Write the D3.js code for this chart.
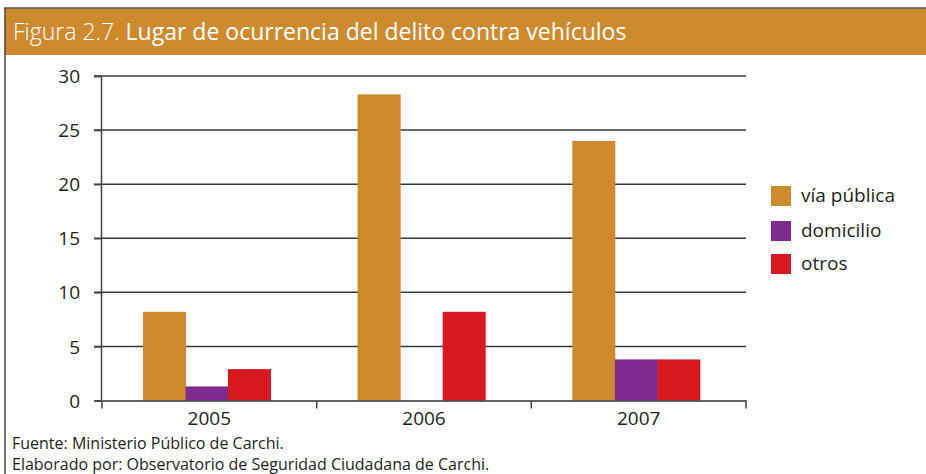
<!DOCTYPE html>
<html>
<head>
<meta charset="utf-8">
<script src="https://cdn.jsdelivr.net/npm/d3@7"></script>
<style>
  body { margin: 0; background: #fff; }
  text { font-family: "Open Sans", "Noto Sans", sans-serif; }
</style>
</head>
<body>
<div id="chart"></div>
<script>
// data
const years = ["2005", "2006", "2007"];
const series = ["vía pública", "domicilio", "otros"];
const viaPublica = [8.2, 28.3, 24.0];
const domicilio = [1.3, 0, 3.8];
const otros = [2.9, 8.2, 3.8];
const yTicks = [0, 5, 10, 15, 20, 25, 30];
const colors = ["#ce8a2e", "#7f2a8e", "#d71920"];

const values = [viaPublica, domicilio, otros];

// config
const width = 926;
const height = 474;

const svg = d3.select("#chart")
  .append("svg")
  .attr("width", width)
  .attr("height", height);

// frame + header
svg.append("rect")
  .attr("x", 5).attr("y", 8).attr("width", width - 5).attr("height", 47)
  .attr("fill", "#ce8a2e");
svg.append("line")
  .attr("x1", 4).attr("x2", width).attr("y1", 8).attr("y2", 8)
  .attr("stroke", "#555").attr("stroke-width", 1.5);
svg.append("line")
  .attr("x1", 5).attr("x2", 5).attr("y1", 8).attr("y2", height)
  .attr("stroke", "#444").attr("stroke-width", 1.5);

const title = svg.append("text")
  .attr("x", 13).attr("y", 40)
  .attr("fill", "#fff")
  .style("font-size", "23px");
title.append("tspan").attr("font-weight", 300).text("Figura 2.7. ");
title.append("tspan").attr("font-weight", 400).text("Lugar de ocurrencia del delito contra vehículos");

// scales
const x = d3.scaleBand()
  .domain(years)
  .range([102, 746]);
const xs = d3.scaleBand()
  .domain(d3.range(series.length))
  .range([41, 168.5]);
const y = d3.scaleLinear()
  .domain([0, 30])
  .range([400.5, 76]);

// grid
svg.append("g")
  .selectAll("line")
  .data(yTicks.filter(d => d > 0))
  .enter().append("line")
  .attr("x1", 94).attr("x2", 746)
  .attr("y1", d => y(d)).attr("y2", d => y(d))
  .attr("stroke", "#3a3a3a").attr("stroke-width", 1.5);

// bars
const groups = svg.append("g")
  .selectAll("g")
  .data(years)
  .enter().append("g")
  .attr("transform", d => `translate(${x(d)},0)`);

groups.selectAll("rect")
  .data((yr, i) => values.map((s, j) => ({ v: s[i], s: j })))
  .enter().append("rect")
  .attr("x", d => xs(d.s))
  .attr("width", xs.bandwidth() + 0.5)
  .attr("y", d => y(d.v))
  .attr("height", d => y(0) - y(d.v))
  .attr("fill", d => colors[d.s]);

// y axis
const yAxis = svg.append("g")
  .attr("transform", "translate(101,0)")
  .call(d3.axisLeft(y).tickValues(yTicks).tickSize(7).tickPadding(14));
yAxis.select(".domain").attr("stroke", "#444").attr("stroke-width", 1.5);
yAxis.selectAll(".tick line").attr("stroke", "#444").attr("stroke-width", 1.5);
yAxis.selectAll(".tick text")
  .attr("fill", "#231f20")
  .style("font-size", "19px")
  .style("font-family", "'Open Sans', sans-serif")
  .attr("dy", "0.35em");

// x axis
const xAxis = svg.append("g")
  .attr("transform", `translate(0,${y(0)})`)
  .call(d3.axisBottom(x).tickSize(0).tickPadding(0));
xAxis.select(".domain").attr("stroke", "#333").attr("stroke-width", 1.5);
xAxis.selectAll(".tick text")
  .attr("y", 24)
  .attr("dy", 0)
  .attr("fill", "#231f20")
  .style("font-size", "19px")
  .style("font-family", "'Open Sans', sans-serif");
xAxis.selectAll(".sep")
  .data([102, 746].concat(years.slice(1).map(d => x(d))))
  .enter().append("line")
  .attr("x1", d => d).attr("x2", d => d)
  .attr("y1", 0).attr("y2", 8)
  .attr("stroke", "#444").attr("stroke-width", 1.5);

// legend
const legend = svg.append("g")
  .selectAll("g")
  .data(series)
  .enter().append("g")
  .attr("transform", (d, i) => `translate(771,${[186, 221, 254][i]})`);
legend.append("rect")
  .attr("width", 20).attr("height", 20)
  .attr("fill", (d, i) => colors[i]);
legend.append("text")
  .attr("x", 30).attr("y", 16)
  .attr("fill", "#231f20")
  .style("font-size", "19px")
  .text(d => d);

// footer
svg.append("text")
  .attr("x", 12).attr("y", 449)
  .attr("fill", "#231f20")
  .style("font-size", "16px")
  .text("Fuente: Ministerio Público de Carchi.");
svg.append("text")
  .attr("x", 12).attr("y", 470)
  .attr("fill", "#231f20")
  .style("font-size", "16px")
  .text("Elaborado por: Observatorio de Seguridad Ciudadana de Carchi.");
</script>
</body>
</html>
